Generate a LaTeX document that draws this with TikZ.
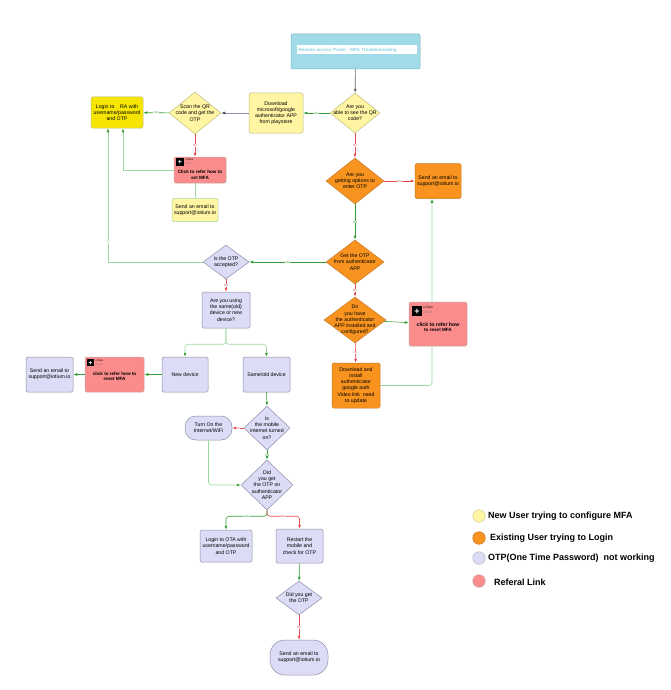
\documentclass[tikz,border=0pt]{standalone}
\usepackage{fontspec}
\setmainfont{Liberation Sans}
\usetikzlibrary{shapes.geometric,arrows.meta,backgrounds}

\definecolor{ylw}{HTML}{FFF5A3}
\definecolor{ylwline}{HTML}{BDBB7A}
\definecolor{ylwdark}{HTML}{F6E500}
\definecolor{orng}{HTML}{F7931E}
\definecolor{orngline}{HTML}{C9782A}
\definecolor{lav}{HTML}{DCDCF7}
\definecolor{lavline}{HTML}{8E8EA8}
\definecolor{pnk}{HTML}{FA8C8C}
\definecolor{pnkline}{HTML}{C9A3A3}
\definecolor{ttl}{HTML}{A2DBE8}
\definecolor{ttlline}{HTML}{7FB1C0}
\definecolor{ttltext}{HTML}{86D2E4}
\definecolor{grn}{HTML}{35A035}
\definecolor{lgrn}{HTML}{9BD89B}
\definecolor{rd}{HTML}{E5484D}

\tikzset{
  every node/.style={font=\fontsize{5.2}{6.2}\selectfont},
  block/.style={rectangle, rounded corners=1.5pt, align=center, inner sep=1pt, line width=0.5pt},
  dec/.style={diamond, inner sep=0pt, line width=0.5pt},
  dtext/.style={label={[align=center]center:#1}},
  pill/.style={block, rounded corners=11pt},
  newuser/.style={fill=ylw, draw=ylwline},
  existing/.style={fill=orng, draw=orngline},
  otp/.style={fill=lav, draw=lavline},
  referal/.style={block, fill=pnk, draw=pnkline},
  rtext/.style 2 args={label={[align=center, yshift=#1, font=\fontsize{4.6}{5.6}\selectfont\bfseries]center:#2}},
  plusicon/.style={rectangle, fill=black, text=white, inner sep=0pt, font=\fontsize{7}{7}\selectfont\bfseries},
  brand/.style={anchor=north west, inner sep=0.2pt, font=\fontsize{2.6}{3}\selectfont},
  yes/.style={color=grn, line width=0.6pt, -{Latex[length=4pt,width=3pt]}},
  no/.style={color=rd, line width=0.6pt, -{Latex[length=4pt,width=3pt]}},
  pale/.style={color=lgrn, line width=0.6pt, -{Latex[length=4pt,width=3pt,color=grn]}},
  lbl/.style={fill=white, inner sep=0.4pt, font=\fontsize{3}{3}\selectfont},
  legdot/.style={circle, minimum size=12.5pt, inner sep=0pt, line width=0.6pt},
  legtxt/.style={anchor=west, inner sep=0pt, font=\fontsize{9}{10}\selectfont\bfseries}
}

\begin{document}
\begin{tikzpicture}[x=1pt, y=-1pt]
  \useasboundingbox (0,0) rectangle (670,690);

  \node[block, fill=ttl, draw=ttlline, rounded corners=2pt, minimum width=129pt, minimum height=35pt] (title) at (355.5,51.5) {};
  \node[fill=white, inner sep=0pt, minimum width=120pt, minimum height=9pt, text width=117pt, align=left, text=ttltext, font=\fontsize{4.5}{5}\selectfont\bfseries] (bar) at (357,50) {Remote access Portal - MFA Troubleshooting};

  \node[dec, newuser, minimum width=50pt, minimum height=40pt, dtext={Are you\\able to see the QR\\code?}] (qr) at (355,113) {};
  \node[block, newuser, minimum width=54pt, minimum height=40pt] (dlapp) at (276,113) {Download\\microsoft/google\\authenticator APP\\from playstore};
  \node[dec, newuser, minimum width=52pt, minimum height=42pt, dtext={Scan the QR\\code and get the\\OTP}] (scan) at (195,113) {};
  \node[block, fill=ylwdark, draw=ylwline, minimum width=52pt, minimum height=31pt] (login) at (117,112.5) {Login to~~~~RA with\\username/password\\and OTP};
  \node[referal, minimum width=52pt, minimum height=26pt, rtext={-5pt}{Click to refer how to\\set MFA}] (setmfa) at (200,170) {};
  \node[block, fill=ylw, draw=lgrn, minimum width=46pt, minimum height=23pt] (mail1) at (195,210) {Send an email to\\support@iotium.io};

  \node[dec, existing, minimum width=58pt, minimum height=46pt, dtext={Are you\\getting options to\\enter OTP}] (opts) at (355,181) {};
  \node[block, existing, minimum width=46pt, minimum height=35pt] (mail2) at (438,181) {Send an email to\\support@iotium.io};
  \node[dec, existing, minimum width=58pt, minimum height=44pt, dtext={Get the OTP\\from authenticator\\APP}] (getotp) at (355,262) {};
  \node[dec, existing, minimum width=62pt, minimum height=46pt, dtext={Do\\you have\\the authenticator\\APP installed and\\configured?}] (have) at (355,320) {};
  \node[referal, minimum width=58pt, minimum height=44pt, rtext={-3pt}{\fontsize{5.2}{6.2}\selectfont click to refer how\\to reset MFA}] (reset1) at (438,324) {};
  \node[block, existing, minimum width=48pt, minimum height=45pt] (install) at (356,385.5) {Download and\\install\\authenticator\\google auth\\Video link~ need\\to update};

  \node[dec, otp, minimum width=46pt, minimum height=34pt, dtext={Is the OTP\\accepted?}] (accepted) at (226,262) {};
  \node[block, otp, minimum width=48pt, minimum height=36pt] (using) at (226,310) {Are you using\\the same(old)\\device or new\\device?};
  \node[block, otp, minimum width=46pt, minimum height=35pt] (newdev) at (185,374.5) {New device};
  \node[block, otp, minimum width=47pt, minimum height=35pt] (samedev) at (266.5,374.5) {Same/old device};
  \node[referal, minimum width=59pt, minimum height=35pt, rtext={-2pt}{click to refer how to\\reset MFA}] (reset2) at (114.5,374.5) {};
  \node[block, otp, minimum width=47pt, minimum height=35pt] (mail3) at (49.5,374.5) {Send an email to\\support@iotium.io};
  \node[dec, otp, minimum width=46pt, minimum height=44pt, dtext={Is\\the mobile\\internet turned\\on?}] (mobile) at (267,428) {};
  \node[pill, otp, minimum width=47pt, minimum height=24pt] (turnon) at (208.5,428) {Turn On the\\Internet/WiFi};
  \node[dec, otp, minimum width=52pt, minimum height=50pt, dtext={Did\\you get\\the OTP on\\authenticator\\APP}] (didget) at (267,485) {};
  \node[block, otp, minimum width=52pt, minimum height=32pt] (ota) at (226,546) {Login to OTA with\\username/password\\and OTP};
  \node[block, otp, minimum width=47pt, minimum height=34pt] (restart) at (299.5,546) {Restart the\\mobile and\\check for OTP};
  \node[dec, otp, minimum width=46pt, minimum height=34pt, dtext={Did you get\\the OTP}] (gotp) at (299,598) {};
  \node[pill, otp, rounded corners=15pt, minimum width=58pt, minimum height=35pt] (mail4) at (299,657.5) {Send an email to\\support@iotium.io};

  \node[plusicon, minimum size=8pt, anchor=north west] (ic1) at ([shift={(2,1.5)}]setmfa.north west) {+};
  \node[brand] (br1) at ([xshift=1pt]ic1.north east) {ioTium};
  \node[brand, text=gray] (sub1) at ([yshift=-1.5pt]br1.south west) {iotium};
  \node[plusicon, minimum size=10pt, anchor=north west, font=\fontsize{9}{9}\selectfont\bfseries] (ic2) at ([shift={(3,4.5)}]reset1.north west) {+};
  \node[brand, font=\fontsize{3.2}{3.6}\selectfont] (br2) at ([xshift=1pt]ic2.north east) {ioTium};
  \node[brand, text=gray, font=\fontsize{3.2}{3.6}\selectfont] (sub2) at ([yshift=-1.5pt]br2.south west) {iotium};
  \node[plusicon, minimum size=7pt, anchor=north west] (ic3) at ([shift={(2,2.5)}]reset2.north west) {+};
  \node[brand] (br3) at ([xshift=1pt]ic3.north east) {ioTium};
  \node[brand, text=gray] (sub3) at ([yshift=-1.5pt]br3.south west) {iotium};

  \draw[color=black!60, line width=0.6pt, -{Latex[length=4pt,width=3pt]}] (title) -- (qr);
  \draw[yes] (qr) -- node[lbl]{Yes} (dlapp);
  \draw[color=lavline, line width=0.6pt, -{Latex[length=4pt,width=3pt,color=black!70]}] (dlapp) -- (scan);
  \draw[yes] (scan) -- node[lbl]{Yes} (login);
  \draw[no] (scan.south) -- node[lbl]{No} (scan.south |- setmfa.north);
  \draw[pale] (setmfa.west) -| ([xshift=6pt]login.south);
  \draw[color=lgrn, line width=0.6pt] (mail1.north |- setmfa.south) -- (mail1.north);
  \draw[no] (qr) -- node[lbl]{No} (opts);
  \draw[no] (opts) -- node[lbl]{No} (mail2);
  \draw[yes] (opts) -- node[lbl]{Yes} (getotp);
  \draw[yes] (getotp) -- node[lbl]{Yes} (accepted);
  \draw[pale] (accepted.west) -| node[lbl, pos=0.575]{Yes} ([xshift=-9pt]login.south);
  \draw[no] (accepted) -- node[lbl]{No} (using);
  \draw[no] (getotp) -- node[lbl]{No} (have);
  \draw[yes] (have) -- node[lbl]{Yes} (reset1);
  \draw[no] (have) -- node[lbl]{No} (install);
  \begin{scope}[on background layer]
    \draw[pale, rounded corners=3pt] (install.east) -| ([xshift=-6pt]mail2.south);
  \end{scope}
  \draw[pale, rounded corners=3pt] (using.south) -- ++(0,16) -| (newdev.north);
  \draw[pale, rounded corners=3pt] (using.south) -- ++(0,16) -| (samedev.north);
  \draw[yes] (newdev) -- (reset2);
  \draw[yes] (reset2) -- (mail3);
  \draw[yes] (samedev.south) -- (mobile.north);
  \draw[no] (mobile) -- node[lbl]{No} (turnon);
  \draw[yes] (mobile) -- node[lbl]{Yes} (didget);
  \draw[pale, rounded corners=3pt] (turnon.south) |- (didget.west);
  \draw[yes, rounded corners=3pt] (didget.south) -- ++(0,6) -| node[lbl, pos=0.25]{Yes} (ota.north);
  \draw[no, rounded corners=3pt] (didget.south) -- ++(0,6) -| node[lbl, pos=0.25]{No} (restart.north);
  \draw[yes] (restart) -- (gotp);
  \draw[no] (gotp) -- node[lbl]{No} (mail4);

  \node[legdot, fill=ylw, draw=ylwline!70] (dot1) at (479,516) {};
  \node[legtxt] (leg1) at (488,516) {New User trying to configure MFA};
  \node[legdot, fill=orng, draw=orngline] (dot2) at (479,538) {};
  \node[legtxt] (leg2) at (490,538) {Existing User trying to Login};
  \node[legdot, fill=lav, draw=lavline!60] (dot3) at (479,558) {};
  \node[legtxt] (leg3) at (488,558) {OTP(One Time Password)~ not working};
  \node[legdot, fill=pnk, draw=pnkline] (dot4) at (479,581) {};
  \node[legtxt] (leg4) at (494,582) {Referal Link};
\end{tikzpicture}
\end{document}
